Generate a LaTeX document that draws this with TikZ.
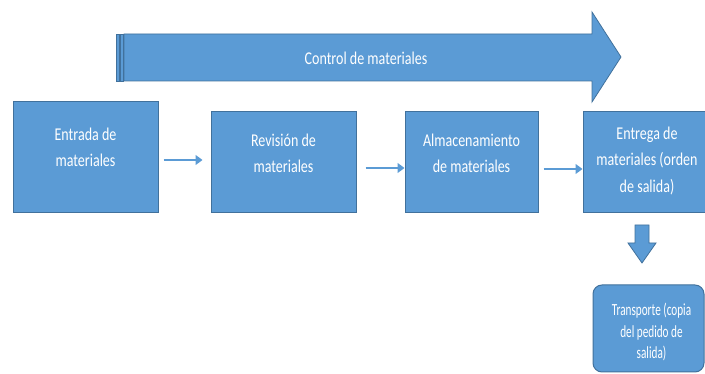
\documentclass[tikz,border=0pt]{standalone}
\usepackage{fontspec}
\setmainfont[FakeStretch=0.78]{Carlito}
\newfontfamily\narrowcf[FakeStretch=0.66]{Carlito}
\usetikzlibrary{arrows.meta}
\definecolor{boxfill}{HTML}{5B9BD5}
\definecolor{boxline}{HTML}{41719C}
\tikzset{
  box/.style={draw=boxline, fill=boxfill, line width=1pt, inner sep=0pt},
  boxtext/.style={text=white, align=center, font=\fontsize{18}{26.5}\selectfont, inner sep=0pt},
  smalltext/.style={text=white, align=center, font=\narrowcf\fontsize{17}{21.5}\selectfont, inner sep=0pt},
  conn/.style={draw=boxfill, line width=1.2pt, -{Triangle[length=7pt,width=10pt]}},
  blockshape/.style={draw=boxline, fill=boxfill, line width=0.8pt, line join=miter},
}
\begin{document}
\begin{tikzpicture}[x=1pt,y=-1pt]
\useasboundingbox (0,0) rectangle (705,374);
% big striped arrow
\path[blockshape] (116,34) rectangle (119.3,81);
\path[blockshape] (120.3,34) rectangle (123,81);
\path[blockshape] (124,34) -- (592,34) -- (592,12) -- (621,57) -- (592,102) -- (592,81) -- (124,81) -- cycle;
\node[boxtext] (ctl) at (366,58) {Control de materiales};
% boxes
\node[box, minimum width=145pt, minimum height=111pt] (b1) at (85.5,157.5) {};
\node[box, minimum width=145pt, minimum height=101pt] (b2) at (283.5,162.5) {};
\node[box, minimum width=133pt, minimum height=101pt] (b3) at (471.5,162.5) {};
\node[box, minimum width=128pt, minimum height=101pt] (b4) at (647,162.5) {};
\node[box, rounded corners=9pt, minimum width=111pt, minimum height=87pt] (b5) at (648.5,328.5) {};
\node[boxtext] (t1) at (85.5,147.5) {Entrada de\\materiales};
\node[boxtext] (t2) at (283.5,153.5) {Revisión de\\materiales};
\node[boxtext] (t3) at (471.5,153.5) {Almacenamiento\\de materiales};
\node[boxtext] (t4) at (647,161) {Entrega de\\materiales (orden\\de salida)};
\node[smalltext] (t5) at (651.5,332) {Transporte (copia\\del pedido de\\salida)};
% connectors
\draw[conn, shorten <=5pt, shorten >=8pt] (b1.east |- 0,160) -- (b2.west |- 0,160);
\draw[conn, shorten <=9pt] (b2.east |- 0,168) -- (b3.west |- 0,168);
\draw[conn, shorten <=5pt] (b3.east |- 0,169) -- (b4.west |- 0,169);
% down block arrow
\path[blockshape] (635,225) -- (649,225) -- (649,243) -- (656,243) -- (642,263) -- (628,243) -- (635,243) -- cycle;
\end{tikzpicture}
\end{document}
